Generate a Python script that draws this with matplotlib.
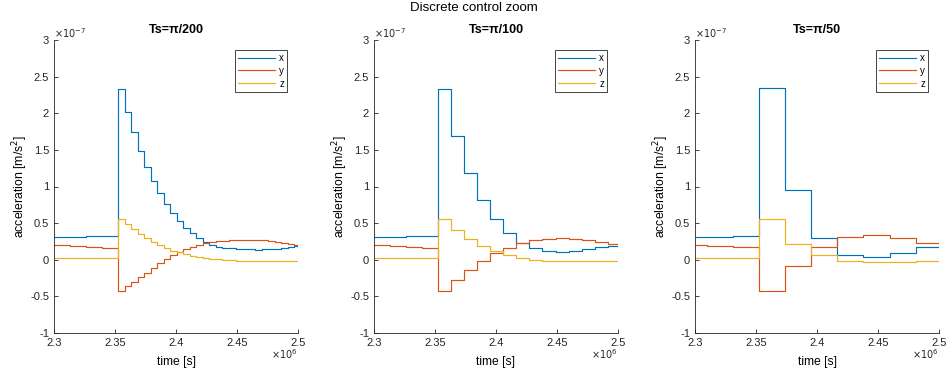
import matplotlib
matplotlib.use('Agg')
import matplotlib.pyplot as plt
from matplotlib.ticker import FuncFormatter

plt.rcParams['font.family'] = ['Liberation Sans', 'DejaVu Sans']
plt.rcParams['font.size'] = 8

# time in units of 1e6 s, acceleration in units of 1e-7 m/s^2
t_end = 2.5

# smooth part before the jump (panels 1 and 2)
t_pre = [2.3, 2.3131, 2.3262, 2.3394]
x_pre = [0.305, 0.312, 0.320, 0.330]
y_pre = [0.205, 0.192, 0.179, 0.166]
z_pre = [0.03, 0.03, 0.03, 0.03]

# Ts = pi/200
t1 = [2.3525, 2.3579, 2.3632, 2.3686, 2.3739, 2.3793, 2.3846, 2.3900, 2.3953, 2.4007,
      2.4060, 2.4114, 2.4167, 2.4221, 2.4274, 2.4328, 2.4381, 2.4435, 2.4488, 2.4542,
      2.4595, 2.4649, 2.4702, 2.4756, 2.4809, 2.4863, 2.4916, 2.4970]
x1 = [2.335, 2.017, 1.740, 1.489, 1.271, 1.075, 0.911, 0.761, 0.634, 0.529,
      0.438, 0.361, 0.293, 0.238, 0.201, 0.178, 0.165, 0.155, 0.148, 0.143,
      0.140, 0.139, 0.140, 0.143, 0.150, 0.160, 0.172, 0.185]
y1 = [-0.432, -0.365, -0.300, -0.240, -0.180, -0.110, -0.050, 0.010, 0.065, 0.110,
      0.150, 0.180, 0.205, 0.225, 0.242, 0.253, 0.260, 0.265, 0.268, 0.270,
      0.270, 0.268, 0.263, 0.255, 0.243, 0.230, 0.215, 0.200]
z1 = [0.556, 0.490, 0.425, 0.355, 0.297, 0.247, 0.200, 0.158, 0.125, 0.100,
      0.076, 0.055, 0.038, 0.024, 0.013, 0.004, -0.003, -0.008, -0.011, -0.013,
      -0.015, -0.016, -0.016, -0.016, -0.015, -0.015, -0.014, -0.013]

# Ts = pi/100
t2 = [2.3525, 2.3632, 2.3739, 2.3846, 2.3953, 2.4060, 2.4167, 2.4274, 2.4381, 2.4488,
      2.4595, 2.4702, 2.4809, 2.4916]
x2 = [2.335, 1.685, 1.189, 0.811, 0.550, 0.361, 0.233, 0.156, 0.124, 0.112,
      0.115, 0.140, 0.170, 0.188]
y2 = [-0.432, -0.283, -0.140, -0.017, 0.088, 0.156, 0.224, 0.270, 0.285, 0.292,
      0.290, 0.275, 0.248, 0.218]
z2 = [0.556, 0.406, 0.283, 0.188, 0.119, 0.065, 0.029, -0.003, -0.012, -0.016,
      -0.017, -0.016, -0.014, -0.012]

# Ts = pi/50 (includes the pre-jump samples)
t3 = [2.3, 2.3097, 2.3311, 2.3525, 2.3739, 2.3953, 2.4167, 2.4381, 2.4595, 2.4809]
x3 = [0.305, 0.315, 0.325, 2.345, 0.957, 0.297, 0.060, 0.038, 0.097, 0.174]
y3 = [0.205, 0.185, 0.168, -0.432, -0.090, 0.174, 0.309, 0.341, 0.295, 0.227]
z3 = [0.030, 0.030, 0.030, 0.561, 0.219, 0.060, -0.022, -0.035, -0.033, -0.015]

panels = [
    ('Ts=\u03c0/200', t_pre + t1, x_pre + x1, y_pre + y1, z_pre + z1),
    ('Ts=\u03c0/100', t_pre + t2, x_pre + x2, y_pre + y2, z_pre + z2),
    ('Ts=\u03c0/50', t3, x3, y3, z3),
]

colors = ['#0072BD', '#D95319', '#EDB120']
names = ['x', 'y', 'z']
lefts = [54, 374, 695]

fig = plt.figure(figsize=(9.48, 3.77), dpi=100)
fig.text(0.5, 0.978, 'Discrete control zoom', ha='center', va='center', fontsize=9.5)

gfmt = FuncFormatter(lambda v, p: '%g' % round(v, 4))

for (title, t, xs, ys, zs), left in zip(panels, lefts):
    ax = fig.add_axes([left / 948, 1 - 333 / 377, 244 / 948, 293 / 377])
    tt = list(t) + [t_end]
    for vals, c, n in zip([xs, ys, zs], colors, names):
        ax.step(tt, vals + [vals[-1]], where='post', color=c, lw=0.85, label=n)
    ax.set_xlim(2.3, 2.5)
    ax.set_ylim(-1, 3)
    ax.set_xticks([2.3, 2.35, 2.4, 2.45, 2.5])
    ax.set_yticks([-1, -0.5, 0, 0.5, 1, 1.5, 2, 2.5, 3])
    ax.xaxis.set_major_formatter(gfmt)
    ax.yaxis.set_major_formatter(gfmt)
    ax.spines['top'].set_visible(False)
    ax.spines['right'].set_visible(False)
    for s in ['left', 'bottom']:
        ax.spines[s].set_color('#262626')
        ax.spines[s].set_linewidth(0.6)
    ax.tick_params(direction='in', length=3, width=0.6, colors='#262626', labelsize=8)
    ax.set_title(title, fontweight='bold', fontsize=9, pad=5)
    ax.set_xlabel('time [s]', fontsize=8.7, labelpad=6)
    ax.set_ylabel('acceleration [m/s$^2$]', fontsize=8.8, labelpad=0)
    ax.text(0.0, 1.0, r'$\times10^{-7}$', transform=ax.transAxes, fontsize=7,
            ha='left', va='bottom', color='#262626')
    ax.text(1.0, -0.05, r'$\times10^{6}$', transform=ax.transAxes, fontsize=7,
            ha='right', va='top', color='#262626')
    leg = ax.legend(loc='upper right', bbox_to_anchor=(1 - 11 / 244, 1 - 10 / 293),
                    borderaxespad=0, fontsize=7, handlelength=3.8, handletextpad=0.4,
                    borderpad=0.3, labelspacing=0.3, fancybox=False, framealpha=1)
    leg.get_frame().set_edgecolor('#262626')
    leg.get_frame().set_linewidth(0.6)

plt.savefig('out.png', dpi=100)
